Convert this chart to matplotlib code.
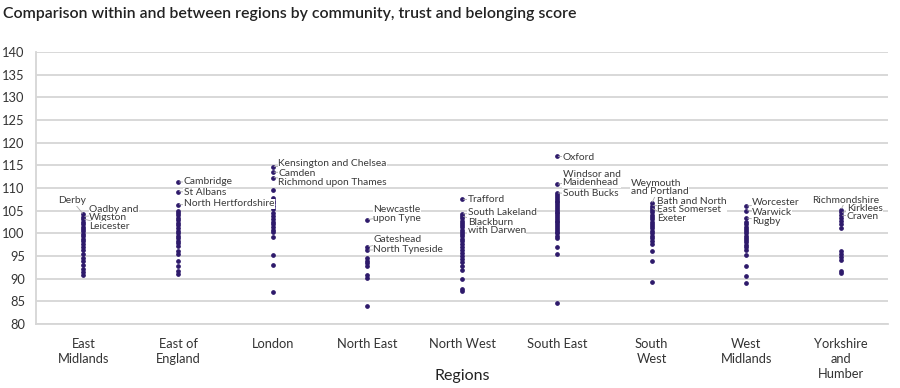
import matplotlib
matplotlib.use("Agg")
import matplotlib.pyplot as plt

plt.rcParams["font.family"] = ["Lato", "DejaVu Sans"]

regions = ["East\nMidlands", "East of\nEngland", "London", "North East", "North West",
           "South East", "South\nWest", "West\nMidlands", "Yorkshire\nand\nHumber"]

east_midlands = [104.2, 103.7, 103.2, 102.6, 102.1, 101.5, 101.0, 100.5, 99.9, 99.3, 98.8,
                 98.2, 97.6, 97.0, 96.4, 95.5, 94.6, 93.8, 93.0, 92.1, 91.4, 90.9]
east_of_england = [111.3, 109.2, 106.3, 105.0, 104.5, 104.0, 103.4, 102.9, 102.3, 101.8, 101.2,
                   100.6, 100.1, 99.5, 99.0, 98.4, 97.8, 97.2, 96.2, 95.4, 93.8, 92.8, 91.7, 91.0]
london = [114.7, 113.5, 112.3, 109.6, 107.8, 107.2, 106.6, 106.0, 105.4, 104.4, 103.8, 103.2,
          102.6, 102.0, 101.4, 100.8, 100.2, 99.2, 95.2, 93.0, 87.0]
north_east = [103.0, 97.0, 96.3, 94.6, 94.0, 93.4, 92.8, 90.7, 90.2, 83.9]
north_west = [107.5, 104.3, 103.8, 103.3, 102.8, 102.3, 101.8, 101.3, 100.8, 100.3, 99.8, 99.3,
              98.8, 98.2, 97.6, 97.0, 96.3, 95.7, 95.0, 94.3, 93.6, 92.8, 92.0, 90.0, 87.8, 87.2]
south_east = [117.0, 110.8, 108.9, 108.4, 108.0, 107.6, 107.2, 106.8, 106.4, 106.0, 105.6,
              105.2, 104.8, 104.4, 104.0, 103.6, 103.2, 102.8, 102.4, 102.0, 101.6, 101.2,
              100.8, 100.4, 100.0, 99.5, 99.0, 97.0, 95.5, 84.7]
south_west = [106.6, 106.1, 105.6, 105.1, 104.6, 104.1, 103.6, 103.1, 102.6, 102.1, 101.6,
              101.1, 100.6, 100.1, 99.5, 98.9, 98.3, 97.6, 96.0, 94.0, 89.3]
west_midlands = [106.0, 105.0, 103.4, 102.6, 102.1, 101.5, 101.0, 100.5, 100.0, 99.5, 99.0,
                 98.5, 98.0, 97.5, 96.9, 96.3, 95.2, 92.8, 90.5, 89.0]
yorkshire = [105.2, 104.6, 104.0, 103.4, 102.7, 102.0, 101.2, 96.2, 95.5, 94.8, 94.1,
             91.7, 91.2]
scores = [east_midlands, east_of_england, london, north_east, north_west,
          south_east, south_west, west_midlands, yorkshire]

# labelled authorities: region index, name, score of the point, text position (x offset, y)
label_region = [0, 0, 0, 1, 1, 1, 2, 2, 2, 3, 3, 3, 4, 4, 4, 5, 5, 5, 6, 6, 6, 7, 7, 7, 8, 8, 8]
label_names = ["Derby", "Oadby and\nWigston", "Leicester",
               "Cambridge", "St Albans", "North Hertfordshire",
               "Kensington and Chelsea", "Camden", "Richmond upon Thames",
               "Newcastle\nupon Tyne", "Gateshead", "North Tyneside",
               "Trafford", "South Lakeland", "Blackburn\nwith Darwen",
               "Oxford", "Windsor and\nMaidenhead", "South Bucks",
               "Weymouth\nand Portland", "Bath and North\nEast Somerset", "Exeter",
               "Worcester", "Warwick", "Rugby",
               "Richmondshire", "Kirklees", "Craven"]
label_scores = [104.2, 103.7, 103.2, 111.3, 109.2, 106.3, 114.7, 113.5, 112.3,
                103.0, 97.0, 96.3, 107.5, 104.3, 103.8, 117.0, 110.8, 108.9,
                106.6, 106.1, 105.6, 106.0, 105.0, 103.4, 105.2, 104.6, 104.0]
label_ty = [107.2, 104.4, 101.6, 111.5, 108.9, 106.5, 115.3, 113.3, 111.3,
            104.2, 98.7, 96.5, 107.4, 104.5, 101.5, 116.8, 112.1, 108.7,
            110.1, 106.1, 103.2, 106.7, 104.7, 102.7, 107.3, 105.4, 103.6]
label_dx = [0.03, 0.06, 0.06, 0.06, 0.06, 0.06, 0.06, 0.06, 0.06,
            0.06, 0.06, 0.06, 0.06, 0.06, 0.06, 0.06, 0.06, 0.06,
            -0.22, 0.06, 0.06, 0.06, 0.06, 0.06, 0.05, 0.06, 0.06]
label_ha = ["right", "left", "left", "left", "left", "left", "left", "left", "left",
            "left", "left", "left", "left", "left", "left", "left", "left", "left",
            "left", "left", "left", "left", "left", "left", "center", "left", "left"]

dot = "#2e1a6b"
grid = "#d6d6d6"

fig = plt.figure(figsize=(9.0, 3.88), dpi=100)
ax = fig.add_axes([0.04, 0.165, 0.947, 0.701])

for i, vals in enumerate(scores):
    ax.plot([i] * len(vals), vals, "o", color=dot, markersize=2.4, linestyle="none", zorder=3)

for r, name, s, ty, dx, ha in zip(label_region, label_names, label_scores, label_ty,
                                  label_dx, label_ha):
    ax.annotate(name, xy=(r, s), xytext=(r + dx, ty), ha=ha, va="center",
                fontsize=7.4, color="#3a3a3a", linespacing=0.95, zorder=4,
                bbox=dict(facecolor="white", edgecolor="none", pad=0.3),
                arrowprops=dict(arrowstyle="-", color="#aaaaaa", lw=0.6,
                                shrinkA=0, shrinkB=1))

ax.set_xlim(-0.5, len(regions) - 0.5)
ax.set_ylim(80, 140)
ax.set_yticks(range(80, 141, 5))
ax.set_xticks(range(len(regions)))
ax.set_xticklabels(regions, fontsize=9.3, color="#333333", linespacing=1.3, va="top")
ax.tick_params(axis="y", labelsize=9.3, colors="#333333", length=0, pad=8)
ax.tick_params(axis="x", length=0, pad=10)
ax.grid(axis="y", color=grid, lw=1.3, zorder=0)
ax.set_axisbelow(True)
for side in ["top", "right"]:
    ax.spines[side].set_visible(False)
for side in ["left", "bottom"]:
    ax.spines[side].set_color(grid)
    ax.spines[side].set_linewidth(1.3)

ax.set_xlabel("Regions", fontsize=11.5, color="#222222", labelpad=-8)
fig.text(0.003, 0.965, "Comparison within and between regions by community, trust and belonging score",
         fontsize=11.4, color="#222222", ha="left", va="center", weight="semibold")

fig.savefig("out.png", dpi=100, facecolor="white")
